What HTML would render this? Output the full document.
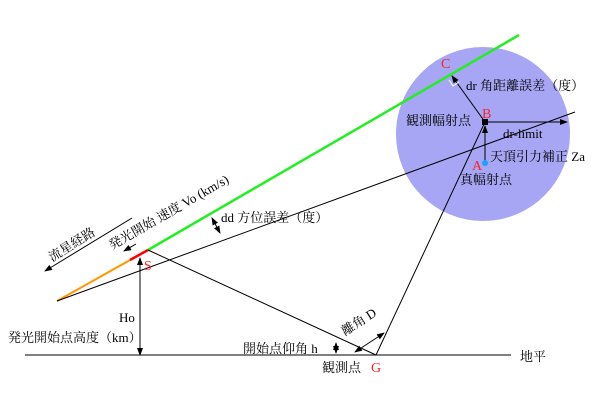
<html><body style="margin:0;background:#fff">
<svg width="600" height="400" xmlns="http://www.w3.org/2000/svg" style="font-family:'Liberation Serif','Noto Serif CJK SC',serif;font-size:13px">
<defs><marker id="a" markerWidth="8" markerHeight="6" refX="7" refY="3" orient="auto"><path d="M0,0 L8,3 L0,6z" fill="#000"/></marker>
<marker id="b" markerWidth="8" markerHeight="6" refX="1" refY="3" orient="auto"><path d="M8,0 L0,3 L8,6z" fill="#000"/></marker></defs>
<circle cx="483" cy="134" r="87" fill="#a6a6f4"/>
<line x1="57" y1="301" x2="148" y2="250" stroke="#ff9900" stroke-width="2"/>
<line x1="130" y1="260" x2="148" y2="250" stroke="#ff0000" stroke-width="2.5"/>
<line x1="148" y1="250" x2="519" y2="35" stroke="#22ee22" stroke-width="2.5"/>
<line x1="57" y1="301" x2="575" y2="112" stroke="#000"/>
<line x1="25" y1="355" x2="511" y2="355" stroke="#000"/>
<line x1="148" y1="250" x2="376" y2="355" stroke="#000"/>
<line x1="376" y1="355" x2="485" y2="122" stroke="#000"/>
<line x1="140" y1="355" x2="140" y2="258" stroke="#000" marker-start="url(#b)" marker-end="url(#a)"/>
<line x1="485" y1="122" x2="452" y2="76" stroke="#000" marker-end="url(#a)"/>
<path d="M449,80 L453,86 L459,82" fill="none" stroke="#fff"/>
<line x1="485" y1="122" x2="567" y2="122" stroke="#000" marker-end="url(#a)"/>
<line x1="485" y1="163" x2="485" y2="126" stroke="#000" marker-end="url(#a)"/>
<rect x="482" y="119" width="6" height="6" fill="#000"/>
<circle cx="485" cy="163" r="3" fill="#1fa0ff"/>
<line x1="132" y1="218" x2="45" y2="271" stroke="#000" marker-end="url(#a)"/>
<line x1="136" y1="244" x2="124" y2="251" stroke="#000" marker-end="url(#a)"/>
<line x1="212" y1="218" x2="220" y2="233" stroke="#000" marker-start="url(#b)" marker-end="url(#a)"/>
<line x1="355" y1="352" x2="384" y2="333" stroke="#000" marker-start="url(#b)" marker-end="url(#a)"/>
<line x1="336" y1="343" x2="336" y2="353" stroke="#000" marker-start="url(#b)" marker-end="url(#a)"/>
<g fill="#ff2222" font-size="14"><text x="441" y="68">C</text><text x="482" y="118">B</text><text x="472" y="170">A</text><text x="144" y="270">S</text><text x="371" y="372">G</text></g>
<text x="466" y="90">dr 角距離誤差（度）</text>
<text x="406" y="125">観測幅射点</text>
<text x="503" y="138">dr-limit</text>
<text x="490" y="161">天頂引力補正 Za</text>
<text x="460" y="184">真幅射点</text>
<text x="221" y="222">dd 方位誤差（度）</text>
<text x="119" y="322">Ho</text>
<text x="8" y="342">発光開始点高度（km）</text>
<text x="243" y="353">開始点仰角 h</text>
<text x="322" y="372">観測点</text>
<text x="520" y="361">地平</text>
<text transform="translate(345,336) rotate(-33)">離角 D</text>
<text transform="translate(52,262) rotate(-32)">流星経路</text>
<text transform="translate(112,250) rotate(-30)">発光開始 速度 Vo (km/s)</text>
</svg></body></html>
